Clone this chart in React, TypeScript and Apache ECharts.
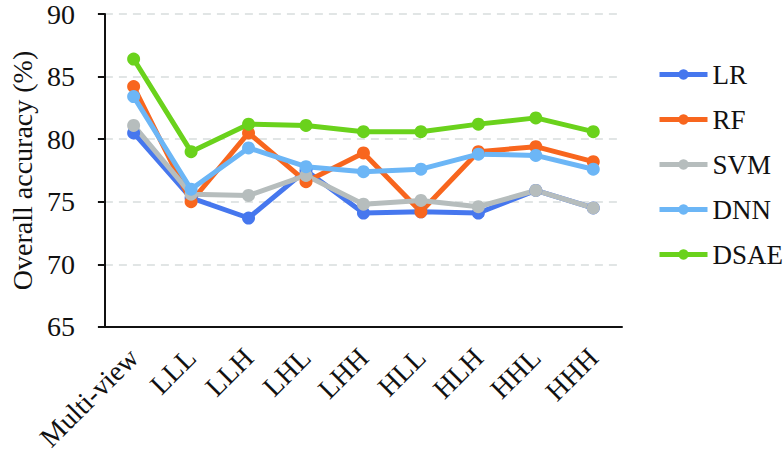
import React, { useEffect, useRef } from "react";
import * as echarts from "echarts";

const categories = ["Multi-view", "LLL", "LLH", "LHL", "LHH", "HLL", "HLH", "HHL", "HHH"];
const seriesNames = ["LR", "RF", "SVM", "DNN", "DSAE"];
const lrValues = [80.5, 75.3, 73.7, 77.5, 74.1, 74.2, 74.1, 75.9, 74.5];
const rfValues = [84.2, 75.0, 80.5, 76.6, 78.9, 74.2, 79.0, 79.4, 78.2];
const svmValues = [81.1, 75.6, 75.5, 77.1, 74.8, 75.1, 74.6, 75.9, 74.5];
const dnnValues = [83.4, 76.0, 79.3, 77.8, 77.4, 77.6, 78.8, 78.7, 77.6];
const dsaeValues = [86.4, 79.0, 81.2, 81.1, 80.6, 80.6, 81.2, 81.7, 80.6];
const colors = ["#4677ee", "#f8661e", "#b6bdbd", "#6cb6f6", "#6ad21c"];

const FONT = '"Times New Roman", "Liberation Serif", Tinos, serif';

export default function App() {
  const ref = useRef<HTMLDivElement>(null);
  useEffect(() => {
    document.body.style.margin = "0";
    if (!ref.current) return;
    const chart = echarts.init(ref.current, null, { renderer: "svg" });
    const allValues = [lrValues, rfValues, svmValues, dnnValues, dsaeValues];
    chart.setOption({
      animation: false,
      backgroundColor: "#ffffff",
      textStyle: { fontFamily: FONT },
      grid: { left: 91, right: 161, top: 10, bottom: 124, containLabel: false },
      legend: {
        orient: "vertical",
        left: 657,
        top: 61,
        padding: 0,
        itemWidth: 48,
        itemHeight: 13,
        itemGap: 18,
        lineStyle: { width: 5 },
        textStyle: { fontFamily: FONT, fontSize: 27, color: "#111" },
        data: seriesNames,
      },
      xAxis: {
        type: "category",
        data: categories,
        boundaryGap: true,
        axisLine: { lineStyle: { color: "#111", width: 2 } },
        axisTick: { alignWithLabel: true, length: 5, lineStyle: { color: "#111", width: 2 } },
        axisLabel: {
          rotate: 45,
          margin: 26,
          interval: 0,
          fontFamily: FONT,
          fontSize: 28,
          color: "#111",
        },
        splitLine: { show: false },
      },
      yAxis: {
        type: "value",
        min: 65,
        max: 90,
        interval: 5,
        name: "Overall accuracy (%)",
        nameLocation: "middle",
        nameGap: 64,
        nameTextStyle: { fontFamily: FONT, fontSize: 28, color: "#111" },
        axisLine: { show: true, lineStyle: { color: "#111", width: 2 } },
        axisTick: { show: true, length: 7, lineStyle: { color: "#111", width: 2 } },
        axisLabel: { margin: 30, fontFamily: FONT, fontSize: 28, color: "#111" },
        splitLine: { show: true, lineStyle: { color: "#d8dddd", type: [8, 6], width: 1.5 } },
      },
      series: seriesNames.map((name, i) => ({
        name,
        type: "line",
        data: allValues[i],
        symbol: "circle",
        symbolSize: 13,
        color: colors[i],
        lineStyle: { width: 5, color: colors[i] },
        itemStyle: { color: colors[i] },
      })),
    });
    return () => chart.dispose();
  }, []);
  return <div ref={ref} style={{ width: 783, height: 454, background: "#fff" }} />;
}
